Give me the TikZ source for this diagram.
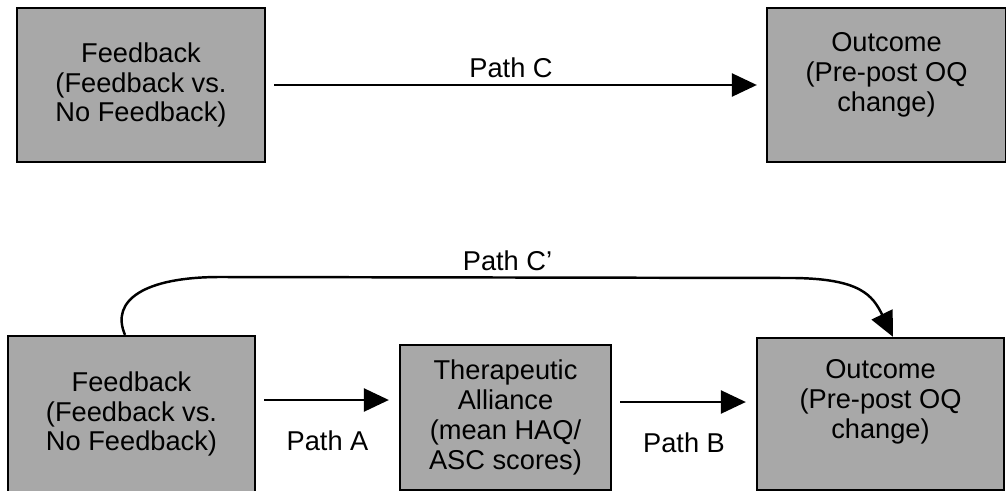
\documentclass[tikz,border=0pt]{standalone}
\usepackage{fontspec}
\setmainfont{Liberation Sans}
\usetikzlibrary{arrows.meta}

\begin{document}
\begin{tikzpicture}[
    box/.style={draw=black, line width=1.3pt, fill=black!34, align=center,
        font=\fontsize{15.5}{17}\selectfont, inner sep=2pt},
    path arrow/.style={line width=1.4pt, -{Triangle[length=0.5cm, width=0.46cm]}},
    path label/.style={font=\fontsize{15.5}{17}\selectfont}
]
    % Fix the size of the picture
    \useasboundingbox (0,0) rectangle (20.12,9.8);

    % Draw the boxes of the direct model
    \node[box, minimum width=4.96cm, minimum height=3.08cm] (feedback top) at (2.82,8.1) {Feedback\\(Feedback vs.\\No Feedback)};
    \node[box, minimum width=4.78cm, minimum height=3.08cm, text depth=0.52cm] (outcome top) at (17.73,8.1) {Outcome\\(Pre-post OQ\\change)};

    % Draw the direct path
    \draw[path arrow, shorten <=0.16cm, shorten >=0.18cm] (feedback top) -- (outcome top) node[path label, pos=0.49, above] {Path C};

    % Draw the boxes of the mediation model
    \node[box, minimum width=4.94cm, minimum height=3.12cm] (feedback) at (2.63,1.52) {Feedback\\(Feedback vs.\\No Feedback)};
    \node[box, minimum width=4.22cm, minimum height=2.9cm] (alliance) at (10.11,1.45) {Therapeutic\\Alliance\\(mean HAQ/\\ASC scores)};
    \node[box, minimum width=4.94cm, minimum height=3.04cm, text depth=0.6cm] (outcome) at (17.61,1.52) {Outcome\\(Pre-post OQ\\change)};

    % Draw paths A and B
    \coordinate (a start) at ([yshift=0.28cm]feedback.east);
    \coordinate (b start) at ([yshift=0.31cm]alliance.east);
    \draw[path arrow, shorten <=0.16cm, shorten >=0.2cm] (a start) -- (a start -| alliance.west) node[path label, midway, below=0.48cm] {Path A};
    \draw[path arrow, shorten <=0.16cm, shorten >=0.2cm] (b start) -- (b start -| outcome.west) node[path label, midway, below=0.48cm] {Path B};

    % Draw the indirect path over the top
    \coordinate (bend left) at (4.4,4.26);
    \coordinate (bend right) at (15.9,4.24);
    \draw[path arrow] ([xshift=-0.13cm]feedback.north) .. controls (2.2,3.8) and (2.9,4.26) .. (bend left) -- (bend right) node[path label, midway, above] {Path C'} .. controls (17.2,4.22) and (17.45,3.9) .. ([xshift=0.25cm]outcome.north);

\end{tikzpicture}
\end{document}
